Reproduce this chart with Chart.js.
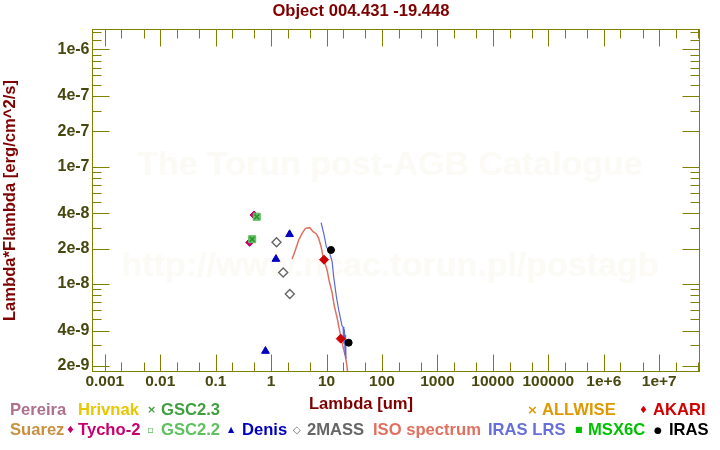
<!DOCTYPE html>
<html>
<head>
<meta charset="utf-8">
<script src="https://cdn.jsdelivr.net/npm/chart.js@4/dist/chart.umd.min.js"></script>
<style>
html,body{margin:0;padding:0;background:#fff;}
#wrap{position:relative;width:720px;height:450px;overflow:hidden;font-family:"Liberation Sans",Arial,sans-serif;font-weight:bold;}
#wrap canvas{position:absolute;left:0;top:0;}
.t{position:absolute;white-space:nowrap;font-size:16.6px;line-height:16px;}
.c{transform:translateX(-50%);}
.wm{position:absolute;white-space:nowrap;font-size:34px;line-height:34px;color:#fbfaf5;transform:translateX(-50%);}
.sym{position:absolute;white-space:nowrap;line-height:16px;font-family:"DejaVu Sans",sans-serif;}
</style>
</head>
<body>
<div id="wrap">
  <div class="wm" style="left:390px;top:146px;">The Torun post-AGB Catalogue</div>
  <div class="wm" style="left:390px;top:247px;">http://www.ncac.torun.pl/postagb</div>
  <canvas id="c" width="720" height="450"></canvas>
  <div class="t c" style="left:361px;top:3px;color:#800000;">Object 004.431 -19.448</div>
  <div class="t c" style="left:361px;top:396px;color:#800000;">Lambda [um]</div>

  <div class="t" style="left:10px;top:402px;color:#b0708a;">Pereira</div>
  <div class="t" style="left:78px;top:402px;color:#e6c700;">Hrivnak</div>
  <div class="sym" style="left:147px;top:402px;font-size:11px;color:#3f9f3f;">×</div>
  <div class="t" style="left:161px;top:402px;color:#3f9f3f;">GSC2.3</div>
  <div class="sym" style="left:527px;top:402px;font-size:13px;color:#dd9900;">×</div>
  <div class="t" style="left:542px;top:402px;color:#dd9900;">ALLWISE</div>
  <div class="sym" style="left:639px;top:402px;font-size:10px;color:#d00000;">♦</div>
  <div class="t" style="left:653px;top:402px;color:#d00000;">AKARI</div>

  <div class="t" style="left:10px;top:422px;color:#c89040;">Suarez</div>
  <div class="sym" style="left:66px;top:422px;font-size:10px;color:#c8006e;">♦</div>
  <div class="t" style="left:78px;top:422px;color:#c8006e;">Tycho-2</div>
  <div class="sym" style="left:147px;top:422px;font-size:10px;color:#60c060;">▫</div>
  <div class="t" style="left:161px;top:422px;color:#60c060;">GSC2.2</div>
  <div class="sym" style="left:228px;top:422px;font-size:8px;color:#0000c0;">▲</div>
  <div class="t" style="left:242px;top:422px;color:#0000c0;">Denis</div>
  <div class="sym" style="left:293px;top:422px;font-size:10px;color:#666666;">◇</div>
  <div class="t" style="left:307px;top:422px;color:#666666;">2MASS</div>
  <div class="t" style="left:373px;top:422px;color:#e07060;">ISO spectrum</div>
  <div class="t" style="left:488px;top:422px;color:#6670d8;">IRAS LRS</div>
  <div class="sym" style="left:575px;top:422px;font-size:8px;color:#00c000;">■</div>
  <div class="t" style="left:588px;top:422px;color:#00c000;">MSX6C</div>
  <div class="sym" style="left:654px;top:422px;font-size:9px;color:#000000;">●</div>
  <div class="t" style="left:669px;top:422px;color:#000000;">IRAS</div>
</div>
<script>
// ---- tick labels ----
const xTickValues = [1e-3, 1e-2, 0.1, 1, 10, 100, 1e3, 1e4, 1e5, 1e6, 1e7];
const xTickLabels = ['0.001', '0.01', '0.1', '1', '10', '100', '1000', '10000', '100000', '1e+6', '1e+7'];
const yTickValues = [2e-9, 4e-9, 1e-8, 2e-8, 4e-8, 1e-7, 2e-7, 4e-7, 1e-6];
const yTickLabels = ['2e-9', '4e-9', '1e-8', '2e-8', '4e-8', '1e-7', '2e-7', '4e-7', '1e-6'];
const yExtraMinor = [1.2e-6, 1.4e-6];

// ---- photometry (lambda in um, lambda*F_lambda in erg/cm^2/s) ----
const tychoLambda = [0.41, 0.49];
const tychoFlux = [2.26e-8, 3.87e-8];
const gsc22Lambda = [0.455, 0.55];
const gsc22Flux = [2.41e-8, 3.74e-8];
const gsc23Lambda = [0.455, 0.55];
const gsc23Flux = [2.41e-8, 3.74e-8];
const denisLambda = [0.79, 1.22, 2.15];
const denisFlux = [2.68e-9, 1.63e-8, 2.65e-8];
const twomassLambda = [1.25, 1.65, 2.17];
const twomassFlux = [2.27e-8, 1.25e-8, 8.2e-9];
const akariLambda = [9, 18];
const akariFlux = [1.61e-8, 3.42e-9];
const irasLambda = [12, 25];
const irasFlux = [1.95e-8, 3.16e-9];

// ---- spectra ----
const isoLambda = [2.39, 2.74, 3.14, 3.62, 4.15, 4.96, 5.71, 6.55, 7.20, 7.96, 8.87, 10.2, 11.2, 12.6, 13.8, 15.5, 17.0, 18.5, 20.3, 21.8, 23.2, 24.2];
const isoFlux = [1.63e-8, 1.95e-8, 2.37e-8, 2.70e-8, 2.98e-8, 3.02e-8, 2.79e-8, 2.67e-8, 2.45e-8, 2.08e-8, 1.61e-8, 1.32e-8, 1.05e-8, 8.39e-9, 6.46e-9, 5.15e-9, 4.10e-9, 3.37e-9, 2.77e-9, 2.43e-9, 2.03e-9, 1.70e-9];
const lrsLambda = [7.96, 8.87, 9.9, 11.4, 12.6, 13.4, 15.0, 16.5, 18.2, 19.0, 19.8, 20.5, 21.0, 21.5, 22.0, 22.4];
const lrsFlux = [3.33e-8, 2.71e-8, 2.08e-8, 1.83e-8, 1.55e-8, 1.16e-8, 7.85e-9, 6.06e-9, 4.82e-9, 4.4e-9, 4.3e-9, 3.1e-9, 4.1e-9, 2.5e-9, 3.7e-9, 2.3e-9];

// ---- style ----
const FONT = '"Liberation Sans", Arial, sans-serif';
const AXIS_COLOR = '#808000';
const TICK_COLOR = '#474710';
const TITLE_COLOR = '#800000';
const X_MIN = 6.15e-4, X_MAX = 5.32e7;
const Y_MIN = 1.795e-9, Y_MAX = 1.476e-6;
const MAJOR_LEN = 17, MINOR_LEN = 9;

const pts = (xs, ys) => xs.map((v, i) => ({x: v, y: ys[i]}));

const frameTicks = {
  id: 'frameTicks',
  afterDatasetsDraw(chart) {
    const {ctx, chartArea: a, scales: {x, y}} = chart;
    ctx.save();
    ctx.strokeStyle = AXIS_COLOR;
    ctx.lineWidth = 1;
    ctx.strokeRect(a.left, a.top, a.right - a.left, a.bottom - a.top);
    ctx.beginPath();
    for (let e = -4; e <= 8; e++) {
      for (const m of [1, 2, 5]) {
        const v = m * Math.pow(10, e);
        if (v < x.min || v > x.max) continue;
        const px = Math.round(x.getPixelForValue(v)) + 0.5;
        const len = m === 1 ? MAJOR_LEN : MINOR_LEN;
        ctx.moveTo(px, a.bottom); ctx.lineTo(px, a.bottom - len);
        ctx.moveTo(px, a.top); ctx.lineTo(px, a.top + len);
      }
    }
    const yVals = [];
    for (let e = -10; e <= -5; e++) for (let m = 1; m <= 9; m++) yVals.push(m * Math.pow(10, e));
    yExtraMinor.forEach(v => yVals.push(v));
    for (const v of yVals) {
      if (v < y.min || v > y.max) continue;
      const major = yTickValues.some(t => Math.abs(t - v) / t < 1e-6);
      const py = Math.round(y.getPixelForValue(v)) + 0.5;
      const len = major ? MAJOR_LEN : MINOR_LEN;
      ctx.moveTo(a.left, py); ctx.lineTo(a.left + len, py);
      ctx.moveTo(a.right, py); ctx.lineTo(a.right - len, py);
    }
    ctx.stroke();
    ctx.restore();
  }
};

new Chart(document.getElementById('c'), {
  type: 'scatter',
  data: {
    datasets: [
      {label: 'GSC2.3', data: pts(gsc23Lambda, gsc23Flux), pointStyle: 'crossRot', pointRadius: 3.5, borderWidth: 1.5, borderColor: '#2f8f2f', backgroundColor: '#2f8f2f'},
      {label: 'GSC2.2', data: pts(gsc22Lambda, gsc22Flux), pointStyle: 'rect', pointRadius: 5, borderWidth: 1, borderColor: '#5cbf5c', backgroundColor: '#66c866'},
      {label: 'Tycho-2', data: pts(tychoLambda, tychoFlux), pointStyle: 'rectRot', pointRadius: 4, borderWidth: 1, borderColor: '#c8006e', backgroundColor: '#c8006e'},
      {label: 'IRAS', data: pts(irasLambda, irasFlux), pointStyle: 'circle', pointRadius: 3.5, borderWidth: 1, borderColor: '#000000', backgroundColor: '#000000'},
      {label: 'AKARI', data: pts(akariLambda, akariFlux), pointStyle: 'rectRot', pointRadius: 4.5, borderWidth: 1, borderColor: '#cc0000', backgroundColor: '#cc0000'},
      {label: 'Denis', data: pts(denisLambda, denisFlux), pointStyle: 'triangle', pointRadius: 4.5, borderWidth: 1, borderColor: '#0000c0', backgroundColor: '#0000c0'},
      {label: '2MASS', data: pts(twomassLambda, twomassFlux), pointStyle: 'rectRot', pointRadius: 4.5, borderWidth: 1.4, borderColor: '#666666', backgroundColor: '#ffffff'},
      {label: 'IRAS LRS', data: pts(lrsLambda, lrsFlux), showLine: true, pointRadius: 0, borderWidth: 1.2, borderColor: '#5a68d6', backgroundColor: '#5a68d6'},
      {label: 'ISO spectrum', data: pts(isoLambda, isoFlux), showLine: true, pointRadius: 0, borderWidth: 1.5, borderColor: '#e07060', backgroundColor: '#e07060'}
    ]
  },
  options: {
    responsive: false,
    animation: false,
    devicePixelRatio: 1,
    layout: {padding: {left: 0, top: 29.5, right: 20.5, bottom: 58.5}},
    plugins: {legend: {display: false}, tooltip: {enabled: false}, title: {display: false}},
    scales: {
      x: {
        type: 'logarithmic', min: X_MIN, max: X_MAX,
        grid: {display: false, drawTicks: false}, border: {display: false},
        afterBuildTicks: s => { s.ticks = xTickValues.map(v => ({value: v})); },
        afterFit: s => { s.height = 20; },
        ticks: {autoSkip: false, maxRotation: 0, minRotation: 0, padding: 1, color: TICK_COLOR,
                font: {family: FONT, size: 15.5, weight: 'bold'}, callback: (v, i) => xTickLabels[i]}
      },
      y: {
        type: 'logarithmic', min: Y_MIN, max: Y_MAX,
        grid: {display: false, drawTicks: false}, border: {display: false},
        afterBuildTicks: s => { s.ticks = yTickValues.map(v => ({value: v})); },
        afterFit: s => { s.width = 92.5; },
        ticks: {autoSkip: false, padding: 3, color: TICK_COLOR,
                font: {family: FONT, size: 16, weight: 'bold'}, callback: (v, i) => yTickLabels[i]},
        title: {display: true, text: 'Lambda*Flambda [erg/cm^2/s]', color: TITLE_COLOR, padding: 0,
                font: {family: FONT, size: 16.6, weight: 'bold'}}
      }
    }
  },
  plugins: [frameTicks]
});
</script>
</body>
</html>
